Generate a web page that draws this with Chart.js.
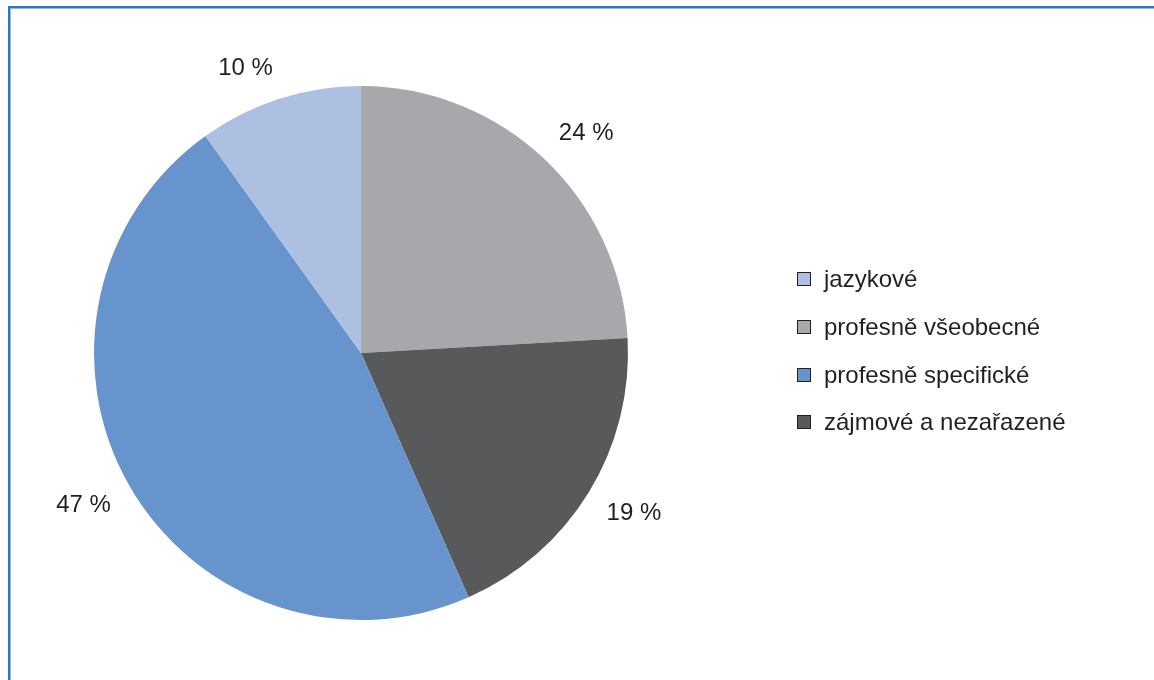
<!DOCTYPE html>
<html>
<head>
<meta charset="utf-8">
<script src="https://cdn.jsdelivr.net/npm/chart.js@4"></script>
<style>
  html, body { margin: 0; padding: 0; background: #fff; }
  #wrap { position: relative; width: 1154px; height: 680px; overflow: hidden; font-family: "Liberation Sans", Arial, sans-serif; color: #231F20; }
  #frame { position: absolute; left: 8px; top: 6px; right: -10px; bottom: -10px; border-top: 2px solid #2C78BC; border-left: 2px solid #2C78BC; box-shadow: inset 1px 1px 0 #8DB9E2; }
  #pie-legend { position: absolute; left: 797px; top: 255.5px; margin: 0; padding: 0; list-style: none; }
  #pie-legend li { height: 47.7px; display: flex; align-items: center; font-size: 24px; line-height: 1; white-space: nowrap; }
  #pie-legend span { display: inline-block; width: 12px; height: 12px; border: 1.5px solid #231F20; margin-right: 13px; }
  canvas { position: absolute; left: 0; top: 0; }
</style>
</head>
<body>
<div id="wrap">
  <div id="frame"></div>
  <canvas id="pie" width="1154" height="680"></canvas>
  <ul id="pie-legend"></ul>
</div>
<script>
// slices clockwise from 12 o'clock
const categories = ["profesně všeobecné", "zájmové a nezařazené", "profesně specifické", "jazykové"];
const values = [24.1, 19.3, 46.7, 9.9];
const sliceColors = ["#A7A8AB", "#58595B", "#6794CD", "#AEC0E2"];
// legend is listed in a different order than the slices
const legendOrder = ["jazykové", "profesně všeobecné", "profesně specifické", "zájmové a nezařazené"];

// percent labels just outside the pie
const outsideLabels = {
  id: 'outsideLabels',
  afterDatasetsDraw(chart) {
    const ctx = chart.ctx;
    const arcs = chart.getDatasetMeta(0).data;
    ctx.save();
    ctx.font = '24px "Liberation Sans", Arial, sans-serif';
    ctx.fillStyle = '#231F20';
    ctx.textBaseline = 'middle';
    arcs.forEach((arc, i) => {
      const mid = (arc.startAngle + arc.endAngle) / 2;
      const r = arc.outerRadius + 21;
      const cx = Math.cos(mid), cy = Math.sin(mid);
      const x = arc.x + cx * r;
      const y = arc.y + cy * r + (cy < 0 ? -10 : 10);
      ctx.textAlign = cx >= 0 ? 'left' : 'right';
      ctx.fillText(Math.round(values[i]) + ' %', x, y);
    });
    ctx.restore();
  }
};

// html legend
const legendPlugin = {
  id: 'htmlLegend',
  afterUpdate(chart) {
    const ul = document.getElementById('pie-legend');
    ul.innerHTML = '';
    legendOrder.forEach(name => {
      const i = categories.indexOf(name);
      const li = document.createElement('li');
      const box = document.createElement('span');
      box.style.background = sliceColors[i];
      li.appendChild(box);
      li.appendChild(document.createTextNode(name));
      ul.appendChild(li);
    });
  }
};

new Chart("pie", {
  type: "pie",
  data: {
    labels: categories,
    datasets: [{
      data: values,
      backgroundColor: sliceColors,
      borderWidth: 0
    }]
  },
  options: {
    responsive: false,
    animation: false,
    layout: { padding: { left: 94, right: 526, top: 86, bottom: 60 } },
    plugins: {
      legend: { display: false },
      tooltip: { enabled: false }
    }
  },
  plugins: [outsideLabels, legendPlugin]
});
</script>
</body>
</html>
